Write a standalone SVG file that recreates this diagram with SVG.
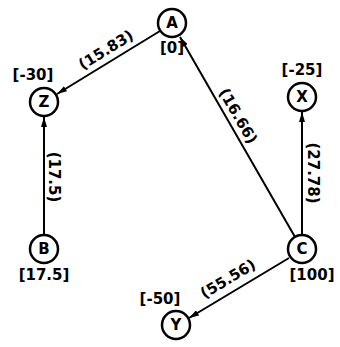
<svg xmlns="http://www.w3.org/2000/svg" width="340" height="347" viewBox="0 0 340 347">
<style>
.node circle{fill:#fff;stroke:#000;stroke-width:2.5}
.node text,.lbl{font-family:"DejaVu Sans",sans-serif;font-weight:bold;font-size:15px;fill:#000;text-anchor:middle;dominant-baseline:central}
.edges line{stroke:#000;stroke-width:2}
</style>
<defs>
<marker id="ah" viewBox="0 0 10 6" refX="10" refY="3" markerWidth="10" markerHeight="6" markerUnits="userSpaceOnUse" orient="auto">
<path d="M0,0L10,3L0,6z" fill="#000"/>
</marker>
</defs>
<rect width="340" height="347" fill="#fff"/>
<g class="edges">
<line x1="160" y1="31" x2="57" y2="94" marker-end="url(#ah)"/>
<line x1="295" y1="237" x2="180" y2="37" marker-end="url(#ah)"/>
<line x1="302" y1="235" x2="302" y2="112" marker-end="url(#ah)"/>
<line x1="44" y1="235" x2="44" y2="117" marker-end="url(#ah)"/>
<line x1="289" y1="258" x2="189" y2="318" marker-end="url(#ah)"/>
<text class="lbl" transform="translate(106,50) rotate(-31.5)">(15.83)</text>
<text class="lbl" transform="translate(238,116) rotate(60)">(16.66)</text>
<text class="lbl" transform="translate(313,173) rotate(90)">(27.78)</text>
<text class="lbl" transform="translate(54,177) rotate(90)">(17.5)</text>
<text class="lbl" transform="translate(228,279) rotate(-31)">(55.56)</text>
</g>
<g id="node-A" class="node"><circle cx="172" cy="23" r="14"/><text x="172" y="23">A</text><text x="172" y="48">[0]</text></g>
<g id="node-Z" class="node"><circle cx="44" cy="102" r="14"/><text x="44" y="102">Z</text><text x="33" y="75">[-30]</text></g>
<g id="node-B" class="node"><circle cx="44" cy="249" r="14"/><text x="44" y="249">B</text><text x="44" y="275">[17.5]</text></g>
<g id="node-X" class="node"><circle cx="302" cy="97" r="14"/><text x="302" y="97">X</text><text x="302" y="70">[-25]</text></g>
<g id="node-C" class="node"><circle cx="302" cy="249" r="14"/><text x="302" y="249">C</text><text x="312" y="275">[100]</text></g>
<g id="node-Y" class="node"><circle cx="176" cy="325" r="14"/><text x="176" y="325">Y</text><text x="160" y="299">[-50]</text></g>
</svg>
